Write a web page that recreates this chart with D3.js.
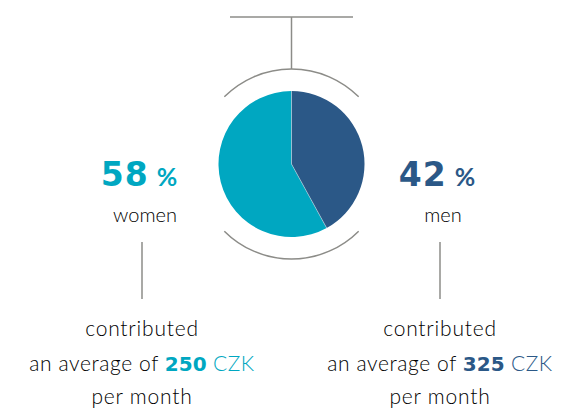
<!DOCTYPE html>
<html>
<head>
<meta charset="utf-8">
<script src="https://cdn.jsdelivr.net/npm/d3@7"></script>
<style>
  body { margin: 0; background: #fff; }
  text { font-family: Lato, "Open Sans", sans-serif; }
  .num { font-family: "DejaVu Sans", Lato, sans-serif; font-weight: bold; }
</style>
</head>
<body>
<div id="chart"></div>
<script>
// Data
const groups = ["women", "men"];
const shares = [58, 42];
const avgCZK = [250, 325];
const colors = ["#00a7c1", "#2b5887"];

const width = 563;
const height = 410;
const cx = 291.5, cy = 164;
const radius = 73;
const ringRadius = 95;
const lineColor = "#8c8c88";
const textColor = "#000";

const svg = d3.select("#chart")
  .append("svg")
  .attr("width", width)
  .attr("height", height);

// Pie: men slice starts at 12 o'clock going clockwise, women fills the rest
const menAngle = shares[1] / 100 * 2 * Math.PI;
const pie = d3.pie()
  .sort(null)
  .startAngle(menAngle)
  .endAngle(menAngle + 2 * Math.PI);

const arc = d3.arc().innerRadius(0).outerRadius(radius);

const g = svg.append("g").attr("transform", `translate(${cx},${cy})`);

g.selectAll("path.slice")
  .data(pie(shares))
  .join("path")
  .attr("class", "slice")
  .attr("d", arc)
  .attr("fill", (d, i) => colors[i]);

// Thin divider between slices
g.selectAll("line.divider")
  .data([0, menAngle])
  .join("line")
  .attr("class", "divider")
  .attr("x1", 0).attr("y1", 0)
  .attr("x2", a => radius * Math.sin(a))
  .attr("y2", a => -radius * Math.cos(a))
  .attr("stroke", "#ffffff")
  .attr("stroke-opacity", 0.5)
  .attr("stroke-width", 0.8);

// Outer ring arcs (top and bottom)
const ringArc = d3.arc().innerRadius(ringRadius).outerRadius(ringRadius);
[[-Math.PI / 4, Math.PI / 4], [3 * Math.PI / 4, 5 * Math.PI / 4]].forEach(([s, e]) => {
  g.append("path")
    .attr("d", ringArc({startAngle: s, endAngle: e}))
    .attr("fill", "none")
    .attr("stroke", lineColor)
    .attr("stroke-width", 1.5);
});

// T-shaped connector on top
svg.append("line")
  .attr("x1", cx).attr("x2", cx)
  .attr("y1", 17).attr("y2", cy - ringRadius)
  .attr("stroke", lineColor).attr("stroke-width", 1.5);
svg.append("line")
  .attr("x1", 230).attr("x2", 353)
  .attr("y1", 17).attr("y2", 17)
  .attr("stroke", lineColor).attr("stroke-width", 1.5);

// Side columns
const colX = [142, 440];

groups.forEach((name, i) => {
  const x = colX[i];

  const pct = svg.append("text")
    .attr("x", x - 3)
    .attr("y", 186)
    .attr("text-anchor", "middle")
    .attr("fill", colors[i]);
  pct.append("tspan")
    .attr("class", "num")
    .attr("font-size", 33)
    .attr("letter-spacing", 1)
    .text(shares[i]);
  pct.append("tspan")
    .attr("font-size", 25)
    .attr("font-weight", 700)
    .attr("dx", 8)
    .text("%");

  svg.append("text")
    .attr("x", x + 3)
    .attr("y", 222)
    .attr("text-anchor", "middle")
    .attr("font-size", 20)
    .attr("font-weight", 300)
    .attr("fill", textColor)
    .text(name);

  svg.append("line")
    .attr("x1", x).attr("x2", x)
    .attr("y1", 242).attr("y2", 299)
    .attr("stroke", lineColor).attr("stroke-width", 1.5);

  svg.append("text")
    .attr("x", x)
    .attr("y", 336)
    .attr("text-anchor", "middle")
    .attr("font-size", 21)
    .attr("font-weight", 300)
    .attr("letter-spacing", 0.8)
    .attr("fill", textColor)
    .text("contributed");

  const avg = svg.append("text")
    .attr("x", x)
    .attr("y", 371)
    .attr("text-anchor", "middle")
    .attr("font-size", 21)
    .attr("font-weight", 300)
    .attr("letter-spacing", 0.6)
    .attr("fill", textColor);
  avg.append("tspan").text("an average of ");
  avg.append("tspan")
    .attr("class", "num")
    .attr("font-size", 20)
    .attr("letter-spacing", 0)
    .attr("fill", colors[i])
    .text(avgCZK[i]);
  avg.append("tspan")
    .attr("fill", colors[i])
    .text(" CZK");

  svg.append("text")
    .attr("x", x)
    .attr("y", 404)
    .attr("text-anchor", "middle")
    .attr("font-size", 21)
    .attr("font-weight", 300)
    .attr("letter-spacing", 0.8)
    .attr("fill", textColor)
    .text("per month");
});
</script>
</body>
</html>
